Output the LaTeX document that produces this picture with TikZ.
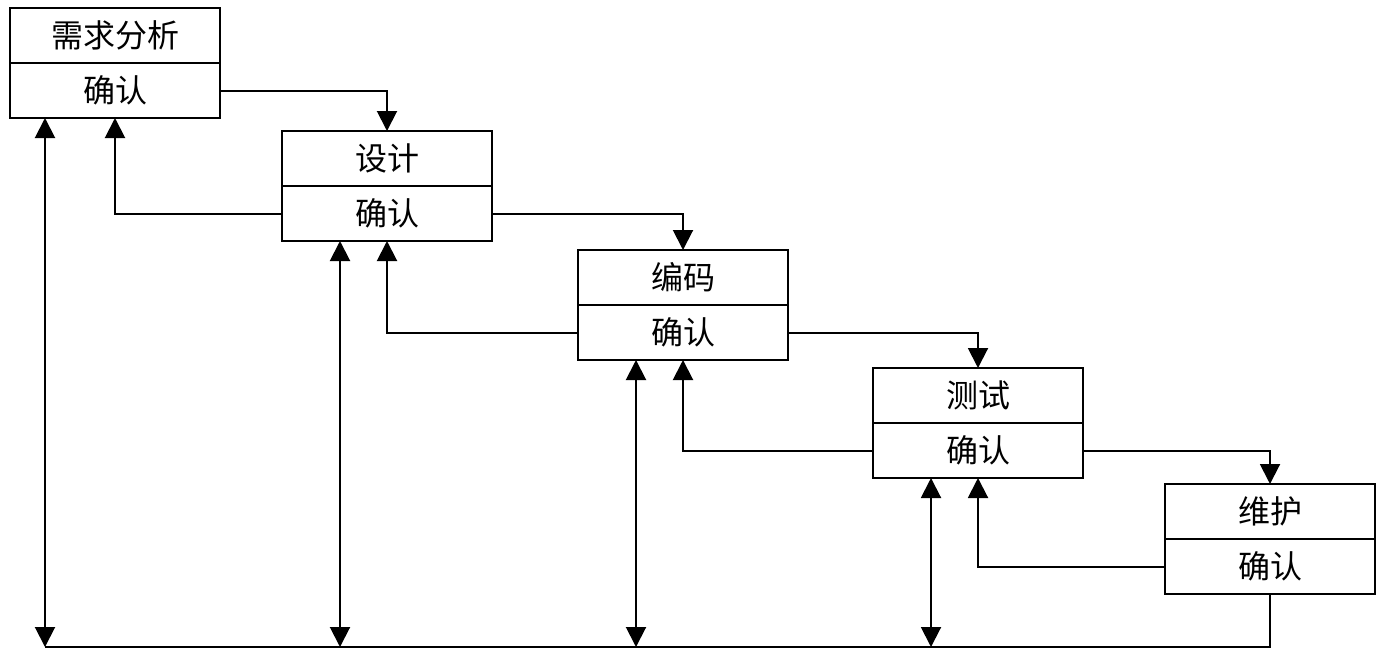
\documentclass[tikz,border=0pt]{standalone}
\usepackage{fontspec}
\newfontfamily\cjk{Noto Sans CJK SC}
\usetikzlibrary{positioning, arrows.meta}

\tikzset{
  stage/.style={draw, line width=1pt, inner sep=0pt, outer sep=0pt,
    minimum width=105pt, minimum height=27.5pt,
    font=\cjk\fontsize{16}{19}\selectfont},
  flow/.style={line width=1pt, -{Triangle[width=10pt, length=10pt]}},
  both/.style={line width=1pt, {Triangle[width=10pt, length=10pt]}-{Triangle[width=10pt, length=10pt]}}
}

\begin{document}
\begin{tikzpicture}[x=0.5pt, y=-0.5pt]
    \useasboundingbox (0,0) rectangle (1386,664);
    % stages: title box with confirm box below
    \foreach \n/\x/\y/\t in {xq/10/8/需求分析, sj/282/131/设计, bm/578/250/编码,
                             cs/873/368/测试, wh/1165/484/维护} {
      \node[stage, anchor=north west] (\n) at (\x,\y) {\t};
      \node[stage, anchor=north] (\n-c) at (\n.south) {确认};
    }
    % forward and back
    \foreach \a/\b in {xq/sj, sj/bm, bm/cs, cs/wh} {
      \draw[flow] (\a-c.east) -| (\b.north);
      \draw[flow] (\b-c.west) -| (\a-c.south);
    }
    % links to the bottom line
    \foreach \a/\x in {xq/45, sj/340, bm/636, cs/931} {
      \coordinate (b-\a) at (\x,647);
      \draw[both] (b-\a |- \a-c.south) -- (b-\a);
    }
    \draw[line width=1pt] (wh-c.south) |- (b-xq);
  \end{tikzpicture}
\end{document}
